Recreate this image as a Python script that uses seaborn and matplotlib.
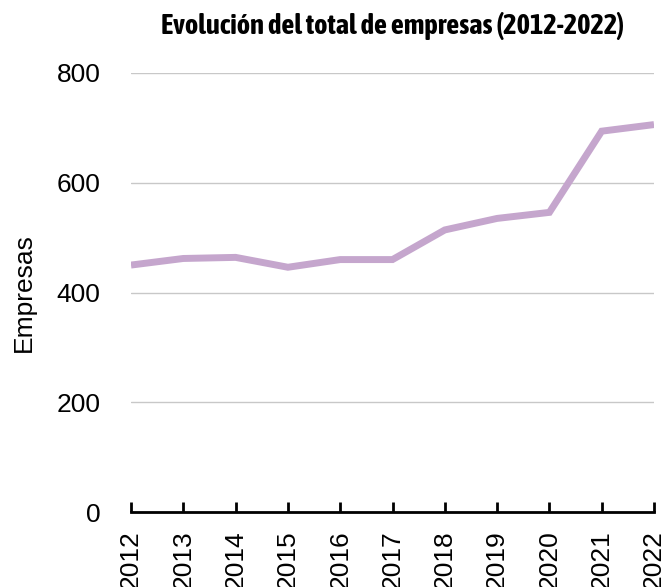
import pandas as pd
import matplotlib
matplotlib.use('Agg')
import matplotlib.pyplot as plt
from matplotlib import font_manager
import seaborn as sns

# data
years = [2012, 2013, 2014, 2015, 2016, 2017, 2018, 2019, 2020, 2021, 2022]
empresas = [450, 462, 464, 446, 460, 460, 514, 535, 546, 694, 706]
y_ticks = [0, 200, 400, 600, 800]

title = 'Evolución del total de empresas (2012-2022)'
y_label = 'Empresas'
line_color = '#C5A6CD'


def pick_condensed_font():
    """Look for a narrow / condensed bold face among installed fonts."""
    for f in font_manager.fontManager.ttflist:
        name = f.name.lower()
        if ('narrow' in name or 'condensed' in name) and f.weight in ('bold', 700):
            return f.fname
    for f in font_manager.fontManager.ttflist:
        if f.stretch == 'condensed' and f.weight in ('bold', 700):
            return f.fname
    return None


def main():
    sns.set_style('white')
    plt.rcParams['font.family'] = ['Liberation Sans', 'DejaVu Sans']
    plt.rcParams['text.color'] = 'black'
    plt.rcParams['axes.labelcolor'] = 'black'
    plt.rcParams['xtick.color'] = 'black'
    plt.rcParams['ytick.color'] = 'black'

    df = pd.DataFrame({'year': years, 'empresas': empresas})

    fig = plt.figure(figsize=(6.66, 5.87), dpi=100)
    ax = fig.add_axes([131 / 666, 1 - 512 / 587, 523 / 666, 439 / 587])

    sns.lineplot(data=df, x='year', y='empresas', ax=ax, color=line_color,
                 linewidth=5, solid_capstyle='butt', solid_joinstyle='miter')

    ax.set_xlim(years[0], years[-1])
    ax.set_ylim(0, 800)
    ax.set_xticks(years)
    ax.set_xticklabels([str(y) for y in years], rotation=90, va='top')
    ax.set_yticks(y_ticks)

    ax.yaxis.grid(True, color='#C8C8C8', linewidth=1)
    ax.set_axisbelow(True)
    for side in ['left', 'right', 'top']:
        ax.spines[side].set_visible(False)
    ax.spines['bottom'].set_color('black')
    ax.spines['bottom'].set_linewidth(2)

    ax.tick_params(axis='x', direction='in', length=7, width=2, color='black',
                   labelsize=19, pad=13, bottom=True)
    ax.tick_params(axis='y', length=0, labelsize=19, pad=22)

    ax.set_xlabel('')
    ax.set_ylabel(y_label, fontsize=19, labelpad=15)

    cond = pick_condensed_font()
    if cond:
        tprops = font_manager.FontProperties(fname=cond, size=20.5)
    else:
        tprops = font_manager.FontProperties(family='DejaVu Sans', weight='bold',
                                             stretch='condensed', size=16)
    ax.set_title(title, fontproperties=tprops, pad=28, color='black')

    fig.savefig('out.png', dpi=100)
    plt.close(fig)


if __name__ == '__main__':
    main()
